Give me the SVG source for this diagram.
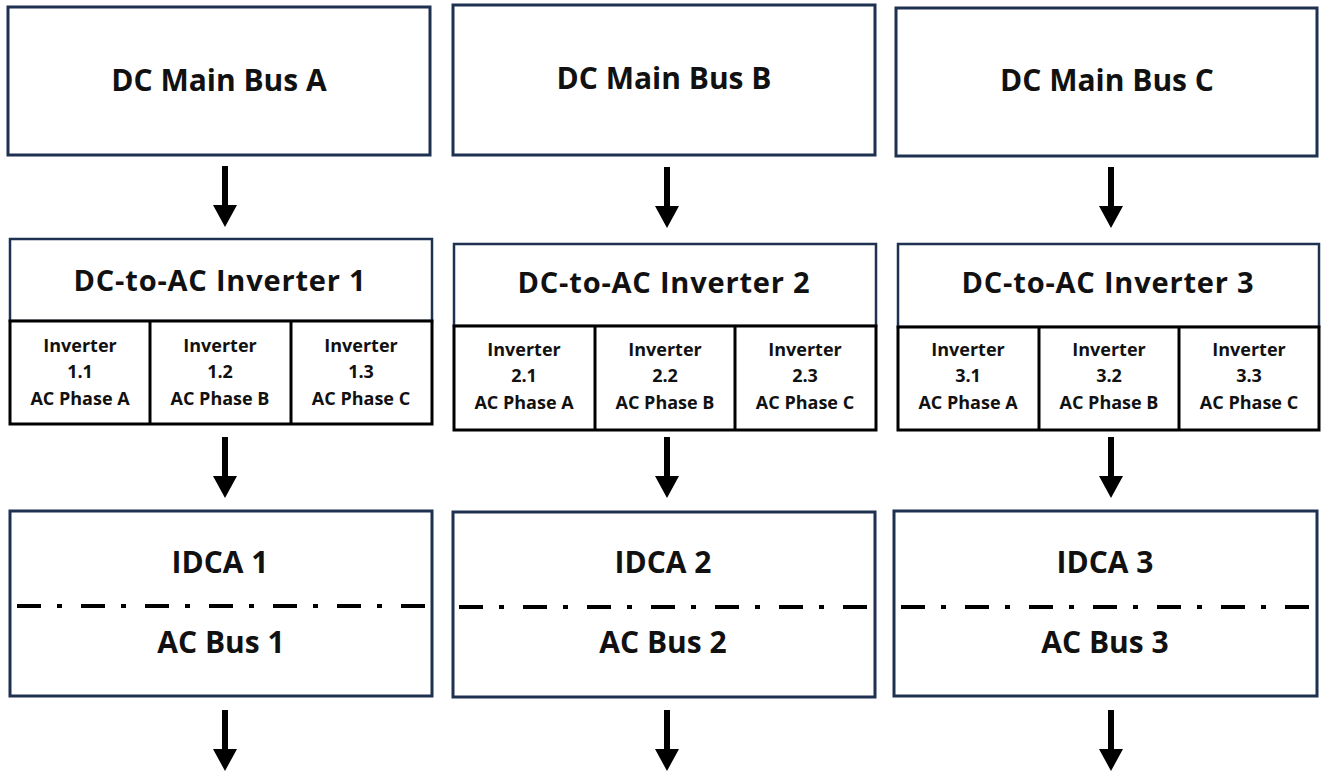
<svg xmlns="http://www.w3.org/2000/svg" width="1321" height="774" viewBox="0 0 1321 774">
<style>
.box{fill:#fff;stroke:#1f3150;stroke-width:3}
.tbox{fill:#fff;stroke:#1f3150;stroke-width:2.5}
.cell{fill:#fff;stroke:#000;stroke-width:3}
.dd{stroke:#000;stroke-width:4;stroke-dasharray:24 16 5 19;fill:none}
.t{font-family:"Open Sans","Noto Sans",sans-serif;font-weight:bold;fill:#111;text-anchor:middle}
.big{font-size:30px}
.mid{font-size:29px;letter-spacing:0.8px}
.sm{font-size:18px}
.arr{fill:#000}
</style>
<defs>
<path id="arrow" d="M-3,0 H3 V39 H12 L0,61 L-12,39 H-3 Z"/>
</defs>

<g id="bus-a">
<rect class="box" x="8" y="7" width="422" height="148"/>
<text class="t big" x="219" y="91">DC Main Bus A</text>
</g>
<g id="bus-b">
<rect class="box" x="453" y="5" width="422" height="150"/>
<text class="t big" x="664" y="89">DC Main Bus B</text>
</g>
<g id="bus-c">
<rect class="box" x="896" y="8" width="421" height="148"/>
<text class="t big" x="1107" y="91">DC Main Bus C</text>
</g>

<g id="inverter-1">
<rect class="tbox" x="10" y="239" width="422" height="82"/>
<text class="t mid" x="220" y="291">DC-to-AC Inverter 1</text>
<rect class="cell" x="10" y="321" width="422" height="103"/>
<line x1="150" y1="321" x2="150" y2="424" stroke="#000" stroke-width="3"/>
<line x1="291" y1="321" x2="291" y2="424" stroke="#000" stroke-width="3"/>
<g class="t sm">
<text x="80" y="352">Inverter</text><text x="80" y="378">1.1</text><text x="80" y="405">AC Phase A</text>
<text x="220" y="352">Inverter</text><text x="220" y="378">1.2</text><text x="220" y="405">AC Phase B</text>
<text x="361" y="352">Inverter</text><text x="361" y="378">1.3</text><text x="361" y="405">AC Phase C</text>
</g>
</g>

<g id="inverter-2">
<rect class="tbox" x="454" y="244" width="422" height="82"/>
<text class="t mid" x="664" y="293">DC-to-AC Inverter 2</text>
<rect class="cell" x="454" y="326" width="422" height="104"/>
<line x1="595" y1="326" x2="595" y2="430" stroke="#000" stroke-width="3"/>
<line x1="735" y1="326" x2="735" y2="430" stroke="#000" stroke-width="3"/>
<g class="t sm">
<text x="524" y="356">Inverter</text><text x="524" y="382">2.1</text><text x="524" y="409">AC Phase A</text>
<text x="665" y="356">Inverter</text><text x="665" y="382">2.2</text><text x="665" y="409">AC Phase B</text>
<text x="805" y="356">Inverter</text><text x="805" y="382">2.3</text><text x="805" y="409">AC Phase C</text>
</g>
</g>

<g id="inverter-3">
<rect class="tbox" x="898" y="244" width="421" height="83"/>
<text class="t mid" x="1108" y="293">DC-to-AC Inverter 3</text>
<rect class="cell" x="898" y="327" width="421" height="103"/>
<line x1="1039" y1="327" x2="1039" y2="430" stroke="#000" stroke-width="3"/>
<line x1="1179" y1="327" x2="1179" y2="430" stroke="#000" stroke-width="3"/>
<g class="t sm">
<text x="968" y="356">Inverter</text><text x="968" y="382">3.1</text><text x="968" y="409">AC Phase A</text>
<text x="1109" y="356">Inverter</text><text x="1109" y="382">3.2</text><text x="1109" y="409">AC Phase B</text>
<text x="1249" y="356">Inverter</text><text x="1249" y="382">3.3</text><text x="1249" y="409">AC Phase C</text>
</g>
</g>

<g id="idca-1">
<rect class="box" x="10" y="511" width="422" height="185"/>
<text class="t big" x="220" y="573">IDCA 1</text>
<line class="dd" x1="17" y1="606" x2="427" y2="606"/>
<text class="t big" x="221" y="653">AC Bus 1</text>
</g>
<g id="idca-2">
<rect class="box" x="453" y="512" width="422" height="185"/>
<text class="t big" x="663" y="573">IDCA 2</text>
<line class="dd" x1="459" y1="607" x2="869" y2="607"/>
<text class="t big" x="663" y="653">AC Bus 2</text>
</g>
<g id="idca-3">
<rect class="box" x="894" y="511" width="423" height="185"/>
<text class="t big" x="1105" y="573">IDCA 3</text>
<line class="dd" x1="901" y1="607" x2="1310" y2="607"/>
<text class="t big" x="1105" y="653">AC Bus 3</text>
</g>

<g id="connectors" class="arr">
<use href="#arrow" x="225" y="166"/>
<use href="#arrow" x="667" y="167"/>
<use href="#arrow" x="1111" y="167"/>
<use href="#arrow" x="225" y="437"/>
<use href="#arrow" x="667" y="437"/>
<use href="#arrow" x="1111" y="437"/>
<use href="#arrow" x="225" y="710"/>
<use href="#arrow" x="667" y="710"/>
<use href="#arrow" x="1111" y="710"/>
</g>
</svg>
